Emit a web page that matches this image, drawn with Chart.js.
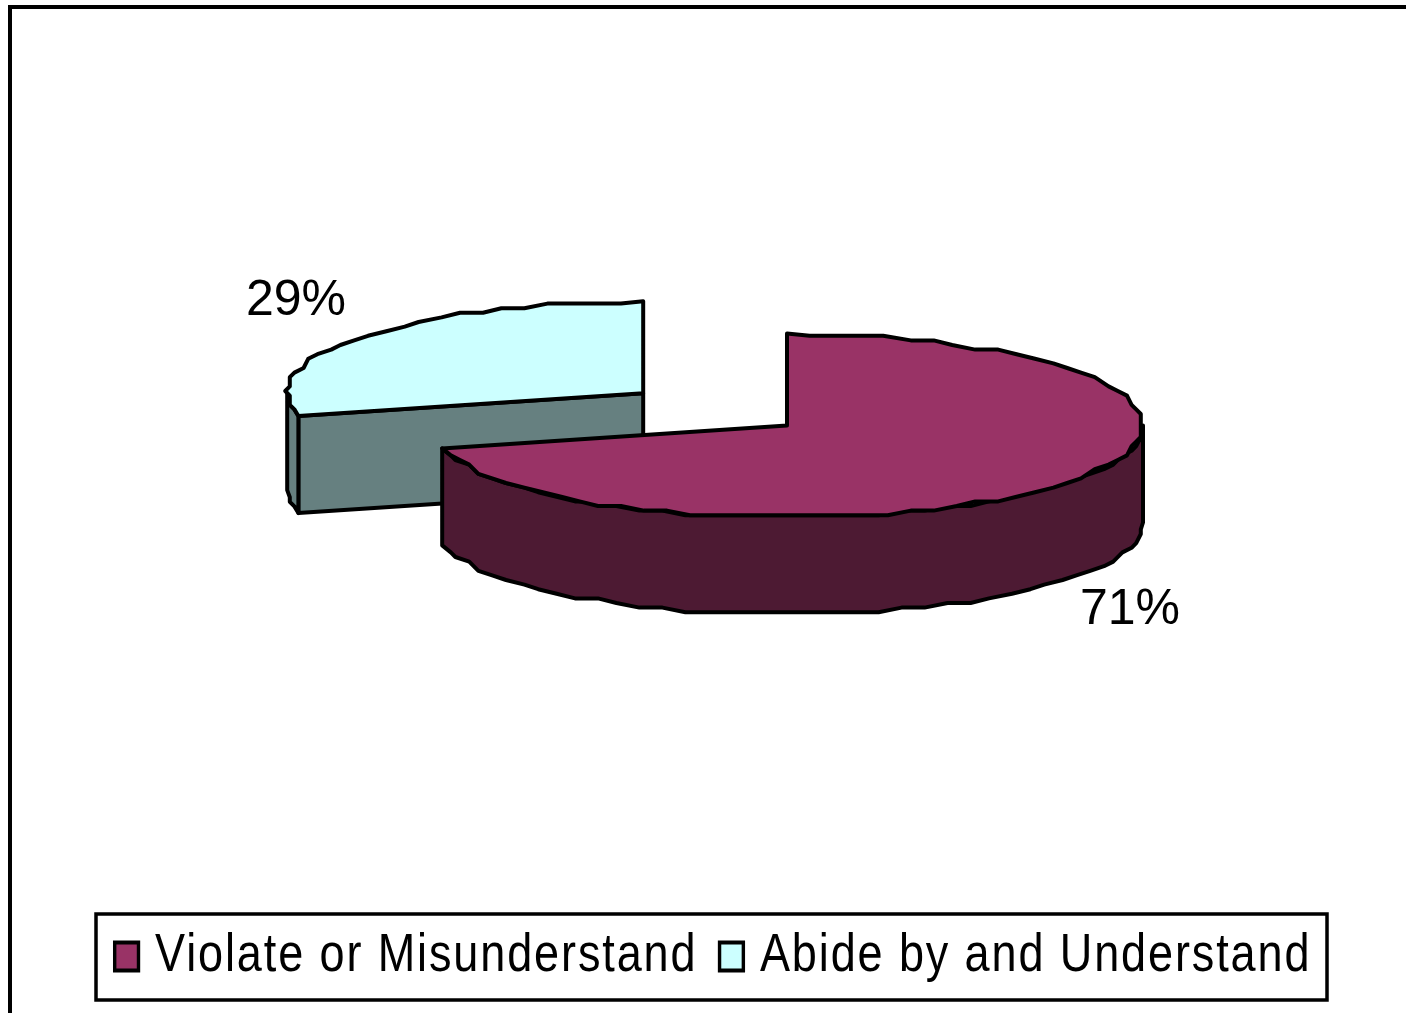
<!DOCTYPE html>
<html>
<head>
<meta charset="utf-8">
<title>Violate or Misunderstand</title>
<script src="https://cdn.jsdelivr.net/npm/chart.js@4"></script>
<style>
  html, body { margin: 0; padding: 0; background: #fff; overflow: hidden; }
  canvas { display: block; }
</style>
</head>
<body>
<canvas id="pieChart" width="1600" height="1013"></canvas>
<script>
const categories = ["Violate or Misunderstand", "Abide by and Understand"];
const shares = [71, 29];
const topColors = ["#993366", "#CCFFFF"];
const sideColors = ["#4D1A33", "#668080"];
const explode = [0, 182];

// the flattened pie, Chart.js gives the angles and we project them
const CENTER_X = 787;
const CENTER_Y = 425.5;
const RADIUS_X = 356;
const RADIUS_Y = 92;
const DEPTH = 97;
const EXPLODE_TILT = 0.29;
const SNAP = 4.6; // the original is a blown up low res image, keep its rough outline
const FACET = 0.07;
const LABEL_SPOTS = [[1130, 610], [296, 301]];

// legend text is tall and squeezed in the original
const LEGEND_SQUEEZE = 0.85;
const LEGEND_MIDDLE = 716;
const TRACKING = "2.2px";

function rimPoints(x, y, from, to) {
  const pts = [];
  const steps = Math.ceil(Math.abs(to - from) / FACET);
  for (let s = 1; s < steps; s++) {
    const a = from + ((to - from) * s) / steps;
    pts.push([
      Math.round((x + Math.cos(a) * RADIUS_X) / SNAP) * SNAP,
      Math.round((y + Math.sin(a) * RADIUS_Y) / SNAP) * SNAP,
    ]);
  }
  return pts;
}

function rimEnd(x, y, a) {
  return [x + Math.cos(a) * RADIUS_X, y + Math.sin(a) * RADIUS_Y];
}

function polygon(ctx, pts, fill) {
  ctx.beginPath();
  pts.forEach((p, i) => (i ? ctx.lineTo(p[0], p[1]) : ctx.moveTo(p[0], p[1])));
  ctx.closePath();
  ctx.fillStyle = fill;
  ctx.fill();
  ctx.stroke();
}

function drawSlice(ctx, arc, i) {
  const mid = (arc.startAngle + arc.endAngle) / 2;
  const x = CENTER_X + Math.cos(mid) * explode[i];
  const y = CENTER_Y + Math.sin(mid) * explode[i] * EXPLODE_TILT;
  const start = arc.startAngle;
  const end = arc.endAngle;

  // flat cut face, only the one turned to the viewer
  if (Math.sin(start - Math.PI / 2) > 0.01) {
    const p = rimEnd(x, y, start);
    polygon(ctx, [[x, y], p, [p[0], p[1] + DEPTH], [x, y + DEPTH]], sideColors[i]);
  }

  // outer wall on the front half of the ellipse
  const from = Math.max(start, 0);
  const to = Math.min(end, Math.PI);
  if (to > from) {
    const upper = [rimEnd(x, y, from), ...rimPoints(x, y, from, to), rimEnd(x, y, to)];
    const lower = upper.map((p) => [p[0], p[1] + DEPTH]).reverse();
    polygon(ctx, [...upper, ...lower], sideColors[i]);
  }

  polygon(
    ctx,
    [[x, y], rimEnd(x, y, start), ...rimPoints(x, y, start, end), rimEnd(x, y, end)],
    arc.options.backgroundColor
  );
}

const pie3d = {
  id: "pie3d",
  beforeLayout(chart) {
    chart.ctx.letterSpacing = TRACKING;
  },
  beforeDraw(chart) {
    const ctx = chart.ctx;
    ctx.letterSpacing = TRACKING;
    ctx.save();
    // outer frame, runs off the picture right and below
    ctx.strokeStyle = "#000";
    ctx.lineWidth = 4;
    ctx.beginPath();
    ctx.moveTo(10, 1013);
    ctx.lineTo(10, 7);
    ctx.lineTo(1600, 7);
    ctx.stroke();
    // legend box
    ctx.lineWidth = 3.5;
    ctx.strokeRect(96, 914, 1231, 86);
    ctx.restore();
    // the legend layer draws next, squeeze it, undone in beforeDatasetsDraw
    ctx.save();
    ctx.translate(LEGEND_MIDDLE - (chart.width / 2) * LEGEND_SQUEEZE, 0);
    ctx.scale(LEGEND_SQUEEZE, 1);
  },
  beforeDatasetsDraw(chart) {
    const ctx = chart.ctx;
    ctx.restore();
    const arcs = chart.getDatasetMeta(0).data;
    ctx.save();
    ctx.strokeStyle = "#000";
    ctx.lineWidth = 4;
    ctx.lineJoin = "round";
    for (let i = arcs.length - 1; i >= 0; i--) {
      drawSlice(ctx, arcs[i], i);
    }
    ctx.letterSpacing = "0px";
    ctx.fillStyle = "#000";
    ctx.font = '50px "Liberation Sans"';
    ctx.textAlign = "center";
    ctx.textBaseline = "middle";
    shares.forEach((v, i) => {
      ctx.fillText(v + "%", LABEL_SPOTS[i][0], LABEL_SPOTS[i][1]);
    });
    ctx.restore();
    return false;
  },
};

new Chart(document.getElementById("pieChart").getContext("2d"), {
  type: "pie",
  data: {
    labels: categories,
    datasets: [
      {
        data: shares,
        backgroundColor: topColors,
        borderColor: "#000",
        borderWidth: 4,
        offset: explode,
      },
    ],
  },
  options: {
    responsive: false,
    animation: false,
    devicePixelRatio: 1,
    layout: { padding: { bottom: 20 } },
    plugins: {
      tooltip: { enabled: false },
      legend: {
        position: "bottom",
        labels: {
          usePointStyle: true,
          pointStyle: "rect",
          boxWidth: 14,
          boxHeight: 28,
          padding: 33,
          color: "#000",
          font: { family: '"Liberation Sans"', size: 53 },
        },
      },
    },
  },
  plugins: [pie3d],
});
</script>
</body>
</html>
